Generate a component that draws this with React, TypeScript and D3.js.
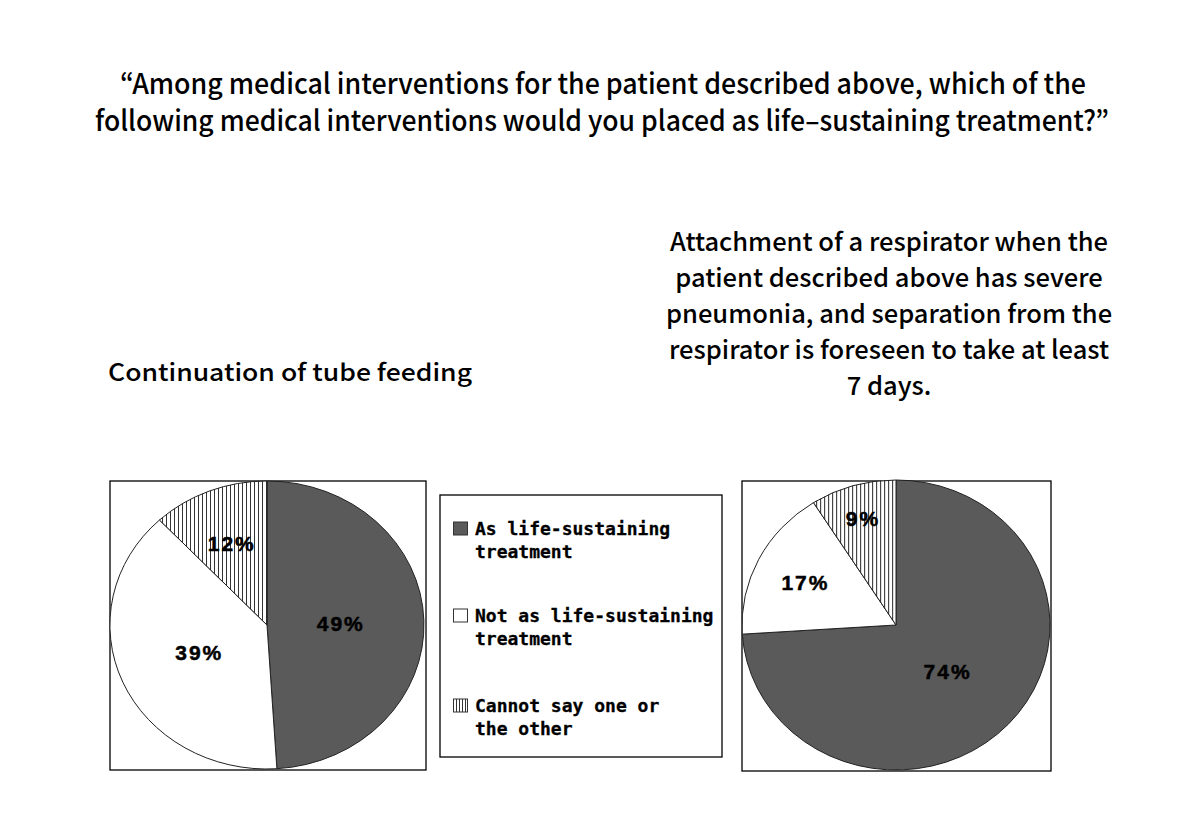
import React from "react";
import * as d3 from "d3";

// ---- data ----
const categories = [
  "As life-sustaining treatment",
  "Not as life-sustaining treatment",
  "Cannot say one or the other",
];
const legendLines = [
  ["As life-sustaining", "treatment"],
  ["Not as life-sustaining", "treatment"],
  ["Cannot say one or", "the other"],
];
const tubeFeedingValues = [49, 39, 12];
const respiratorValues = [74, 17, 9];
const titleLines = [
  "\u201CAmong medical interventions for the patient described above, which of the",
  "following medical interventions would you placed as life\u2013sustaining treatment?\u201D",
];
const leftSubtitle = ["Continuation of tube feeding"];
const rightSubtitle = [
  "Attachment of a respirator when the",
  "patient described above has severe",
  "pneumonia, and separation from the",
  "respirator is foreseen to take at least",
  "7 days.",
];

// ---- styles ----
const DARK = "#5a5a5a";
const MONO = "'DejaVu Sans Mono', 'Liberation Mono', monospace";
const SANS = "'Noto Sans CJK JP', 'Noto Sans', sans-serif";
const LABEL = "'Liberation Sans', Arial, sans-serif";

type PieProps = {
  id: string;
  values: number[];
  cx: number;
  cy: number;
  rx: number;
  ry: number;
  box: [number, number, number, number];
  labelR: number[];
};

function Pie({ id, values, cx, cy, rx, ry, box, labelR }: PieProps) {
  const pie = d3.pie<number>().sort(null).value((d) => d)(values);
  const arc = d3.arc<d3.PieArcDatum<number>>().innerRadius(0).outerRadius(1);
  const fills = [DARK, "#ffffff", `url(#hatch-${id})`];
  return (
    <g>
      <defs>
        <pattern
          id={`hatch-${id}`}
          patternUnits="userSpaceOnUse"
          width={4}
          height={4}
          patternTransform={`scale(${1 / rx},${1 / ry}) translate(${cx % 4},0)`}
        >
          <rect width={4} height={4} fill="#fff" />
          <line x1={0.5} y1={0} x2={0.5} y2={4} stroke="#333" strokeWidth={1} />
        </pattern>
      </defs>
      <rect x={box[0]} y={box[1]} width={box[2]} height={box[3]} fill="#fff" stroke="#000" strokeWidth={1.3} />
      <g transform={`translate(${cx},${cy}) scale(${rx},${ry})`}>
        {pie.map((p, i) => (
          <path
            key={i}
            d={arc(p) || ""}
            fill={fills[i]}
            stroke="#222"
            strokeWidth={1}
            vectorEffect="non-scaling-stroke"
          />
        ))}
      </g>
      {pie.map((p, i) => {
        const a = (p.startAngle + p.endAngle) / 2;
        const x = cx + Math.sin(a) * rx * labelR[i];
        const y = cy - Math.cos(a) * ry * labelR[i];
        return (
          <text
            key={i}
            x={x}
            y={y + 8}
            textAnchor="middle"
            fontFamily={LABEL}
            fontWeight="bold"
            fontSize={21}
            letterSpacing={2}
            stroke="#000"
            strokeWidth={0.5}
            fill="#000"
          >
            {`${values[i]}%`}
          </text>
        );
      })}
    </g>
  );
}

export default function App() {
  return (
    <svg
      width={1200}
      height={831}
      viewBox="0 0 1200 831"
      style={{ position: "absolute", left: 0, top: 0, background: "#fff" }}
    >
      <defs>
        <pattern id="vhatch" patternUnits="userSpaceOnUse" width={3} height={3}>
          <rect width={3} height={3} fill="#fff" />
          <line x1={0.5} y1={0} x2={0.5} y2={3} stroke="#333" strokeWidth={1} />
        </pattern>
      </defs>
      <rect width={1200} height={831} fill="#fff" />

      {/* main title */}
      <text x={603} y={94} textAnchor="middle" fontFamily={SANS} fontWeight={500} fontSize={28} textLength={966} lengthAdjust="spacingAndGlyphs">
        {titleLines[0]}
      </text>
      <text x={602} y={131} textAnchor="middle" fontFamily={SANS} fontWeight={500} fontSize={28} textLength={1014} lengthAdjust="spacingAndGlyphs">
        {titleLines[1]}
      </text>

      {/* subtitles */}
      <text x={290} y={381} textAnchor="middle" fontFamily={SANS} fontWeight={500} fontSize={24} textLength={364} lengthAdjust="spacingAndGlyphs">
        {leftSubtitle[0]}
      </text>
      {rightSubtitle.map((s, i) => (
        <text key={i} x={889} y={251 + i * 36} textAnchor="middle" fontFamily={SANS} fontWeight={500} fontSize={25.5}>
          {s}
        </text>
      ))}

      <Pie
        id="tube"
        values={tubeFeedingValues}
        cx={267}
        cy={625}
        rx={157}
        ry={144}
        box={[110, 481, 316, 289]}
        labelR={[0.47, 0.47, 0.61]}
      />
      <Pie
        id="resp"
        values={respiratorValues}
        cx={896}
        cy={625}
        rx={154}
        ry={145}
        box={[742, 481, 309, 290]}
        labelR={[0.46, 0.66, 0.77]}
      />

      {/* legend */}
      <rect x={440} y={495} width={282} height={262} fill="#fff" stroke="#000" strokeWidth={1.3} />
      {categories.map((c, i) => {
        const base = [535, 622, 712][i];
        const fill = [DARK, "#ffffff", "url(#vhatch)"][i];
        return (
          <g key={c}>
            <rect x={453.5} y={base - 13} width={14} height={13} fill={fill} stroke="#333" strokeWidth={1} />
            {legendLines[i].map((l, j) => (
              <text key={j} x={475} y={base + j * 23} fontFamily={MONO} fontWeight="bold" fontSize={18} stroke="#000" strokeWidth={0.3} fill="#000">
                {l}
              </text>
            ))}
          </g>
        );
      })}
    </svg>
  );
}
